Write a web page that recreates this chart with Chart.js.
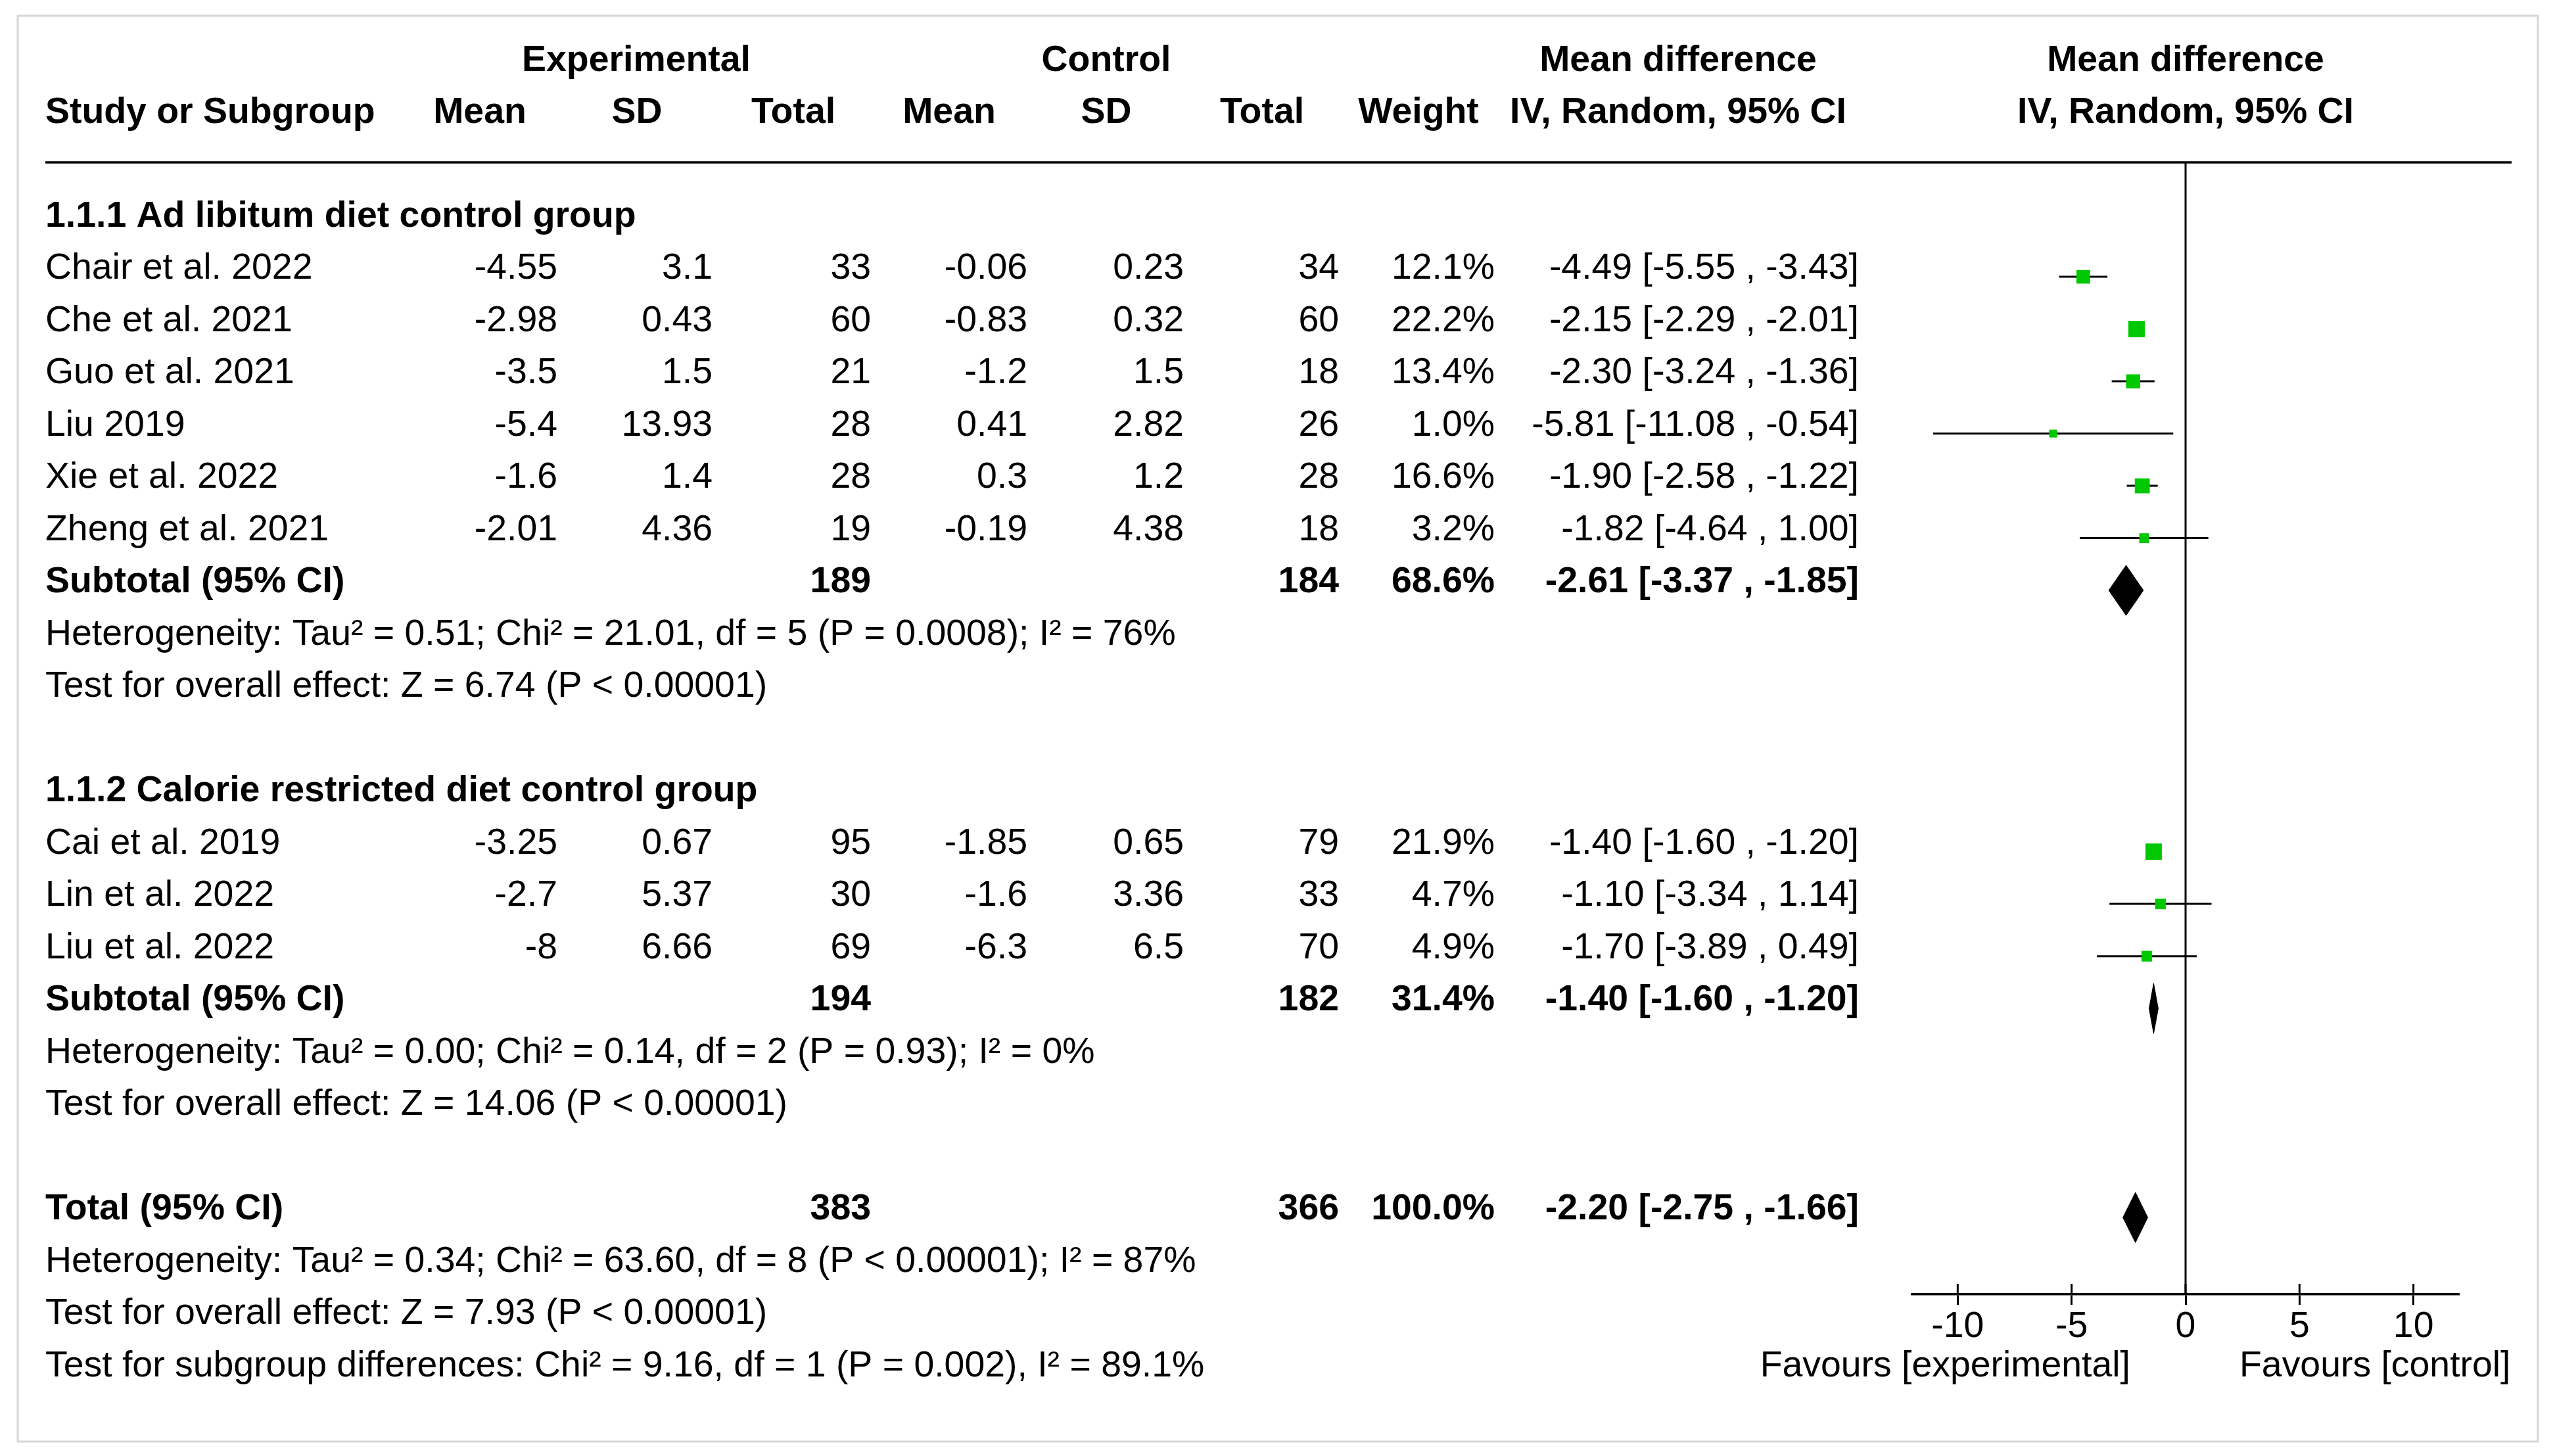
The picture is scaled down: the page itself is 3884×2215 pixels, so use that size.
<!DOCTYPE html>
<html>
<head>
<meta charset="utf-8">
<script src="https://cdn.jsdelivr.net/npm/chart.js@4.4.1/dist/chart.umd.min.js"></script>
<style>
  html, body { margin: 0; padding: 0; background: #fff; }
  canvas { display: block; }
</style>
</head>
<body>
<canvas id="forest" width="3884" height="2215"></canvas>
<script>
// study level data
const studies = ['Chair et al. 2022', 'Che et al. 2021', 'Guo et al. 2021', 'Liu 2019', 'Xie et al. 2022',
  'Zheng et al. 2021', 'Cai et al. 2019', 'Lin et al. 2022', 'Liu et al. 2022']
const studyRows = [1, 2, 3, 4, 5, 6, 12, 13, 14]
const expMean = [-4.55, -2.98, -3.5, -5.4, -1.6, -2.01, -3.25, -2.7, -8]
const expSD = [3.1, 0.43, 1.5, 13.93, 1.4, 4.36, 0.67, 5.37, 6.66]
const expTotal = [33, 60, 21, 28, 28, 19, 95, 30, 69]
const ctrlMean = [-0.06, -0.83, -1.2, 0.41, 0.3, -0.19, -1.85, -1.6, -6.3]
const ctrlSD = [0.23, 0.32, 1.5, 2.82, 1.2, 4.38, 0.65, 3.36, 6.5]
const ctrlTotal = [34, 60, 18, 26, 28, 18, 79, 33, 70]
const weights = [12.1, 22.2, 13.4, 1.0, 16.6, 3.2, 21.9, 4.7, 4.9]
const md = [-4.49, -2.15, -2.30, -5.81, -1.90, -1.82, -1.40, -1.10, -1.70]
const ciLow = [-5.55, -2.29, -3.24, -11.08, -2.58, -4.64, -1.60, -3.34, -3.89]
const ciHigh = [-3.43, -2.01, -1.36, -0.54, -1.22, 1.00, -1.20, 1.14, 0.49]

// pooled estimates
const pooledLabels = ['Subtotal (95% CI)', 'Subtotal (95% CI)', 'Total (95% CI)']
const pooledRows = [7, 15, 19]
const pooledExpTotal = [189, 194, 383]
const pooledCtrlTotal = [184, 182, 366]
const pooledWeight = [68.6, 31.4, 100.0]
const pooledMD = [-2.61, -1.40, -2.20]
const pooledLow = [-3.37, -1.60, -2.75]
const pooledHigh = [-1.85, -1.20, -1.66]

// subgroup headings and notes
const groupLabels = ['1.1.1 Ad libitum diet control group', '1.1.2 Calorie restricted diet control group']
const groupRows = [0, 11]
const notes = [
  'Heterogeneity: Tau² = 0.51; Chi² = 21.01, df = 5 (P = 0.0008); I² = 76%',
  'Test for overall effect: Z = 6.74 (P < 0.00001)',
  'Heterogeneity: Tau² = 0.00; Chi² = 0.14, df = 2 (P = 0.93); I² = 0%',
  'Test for overall effect: Z = 14.06 (P < 0.00001)',
  'Heterogeneity: Tau² = 0.34; Chi² = 63.60, df = 8 (P < 0.00001); I² = 87%',
  'Test for overall effect: Z = 7.93 (P < 0.00001)',
  'Test for subgroup differences: Chi² = 9.16, df = 1 (P = 0.002), I² = 89.1%'
]
const noteRows = [8, 9, 16, 17, 20, 21, 22]

const xTicks = [-10, -5, 0, 5, 10]
const favourLabels = ['Favours [experimental]', 'Favours [control]']

const FONT = '"Liberation Sans", Arial, Helvetica, sans-serif'
const FS = 55.4
const GREEN = '#00c800'
const DIAMOND_H = 0.48   // half height of the diamonds, in rows
const TEXT_SHIFT = 12    // text sits a bit above the marks

// column anchors (px)
const COL = { study: 69, eMean: 848, eSD: 1084, eTot: 1325, cMean: 1563, cSD: 1801,
  cTot: 2037, weight: 2274, ci: 2828 }

function squareSide(w) {
  return 8.5 + 3.5 * Math.sqrt(w)
}

const datasets = []

datasets.push({
  label: 'studies',
  data: md.map((v, i) => ({ x: v, y: studyRows[i] })),
  pointStyle: 'rect',
  pointRadius: ctx => squareSide(weights[ctx.dataIndex]) / Math.SQRT2,
  pointBackgroundColor: GREEN,
  pointBorderWidth: 0,
  showLine: false,
  order: 0
})

for (let i = 0; i < studies.length; i++) {
  datasets.push({
    label: studies[i] + ' CI',
    data: [{ x: ciLow[i], y: studyRows[i] }, { x: ciHigh[i], y: studyRows[i] }],
    showLine: true,
    borderColor: '#000',
    borderWidth: 3,
    pointRadius: 0,
    order: 1
  })
}

for (let i = 0; i < pooledRows.length; i++) {
  let r = pooledRows[i]
  datasets.push({
    label: pooledLabels[i],
    data: [
      { x: pooledLow[i], y: r },
      { x: pooledMD[i], y: r - DIAMOND_H },
      { x: pooledHigh[i], y: r },
      { x: pooledMD[i], y: r + DIAMOND_H },
      { x: pooledLow[i], y: r }
    ],
    showLine: true,
    fill: 'shape',
    backgroundColor: '#000',
    borderColor: '#000',
    borderWidth: 1,
    pointRadius: 0,
    order: 0
  })
}

function fmt2(v) { return v.toFixed(2) }

const tablePlugin = {
  id: 'tableText',
  beforeDraw(chart) {
    const ctx = chart.ctx
    ctx.save()
    ctx.fillStyle = '#fff'
    ctx.fillRect(0, 0, chart.width, chart.height)
    ctx.strokeStyle = '#d6d6d6'
    ctx.lineWidth = 3
    ctx.strokeRect(27, 24, 3834, 2169)
    ctx.restore()
  },
  afterDraw(chart) {
    const ctx = chart.ctx
    const xs = chart.scales.x
    const ys = chart.scales.y
    const area = chart.chartArea
    const x0 = xs.getPixelForValue(0)
    const rowY = r => ys.getPixelForValue(r) - TEXT_SHIFT

    ctx.save()
    // rule under the header and the line of no effect
    ctx.strokeStyle = '#000'
    ctx.lineWidth = 3.5
    ctx.beginPath()
    ctx.moveTo(69, area.top)
    ctx.lineTo(3821, area.top)
    ctx.stroke()
    ctx.lineWidth = 3
    ctx.beginPath()
    ctx.moveTo(x0, area.top)
    ctx.lineTo(x0, area.bottom)
    ctx.stroke()
    // upper half of the axis ticks
    ctx.lineWidth = 3
    xs.ticks.forEach(t => {
      const px = xs.getPixelForValue(t.value)
      ctx.beginPath()
      ctx.moveTo(px, area.bottom - 16)
      ctx.lineTo(px, area.bottom)
      ctx.stroke()
    })

    ctx.fillStyle = '#000'
    ctx.textBaseline = 'middle'
    const put = (s, x, y, align, bold) => {
      ctx.font = (bold ? 'bold ' : '') + FS + 'px ' + FONT
      ctx.textAlign = align
      ctx.fillText(s, x, y)
    }

    // headers
    put('Experimental', 968, 93, 'center', true)
    put('Control', 1683, 93, 'center', true)
    put('Mean difference', 2553, 93, 'center', true)
    put('Mean difference', x0, 93, 'center', true)
    put('Study or Subgroup', COL.study, 172, 'left', true)
    put('Mean', 730, 172, 'center', true)
    put('SD', 969, 172, 'center', true)
    put('Total', 1207, 172, 'center', true)
    put('Mean', 1444, 172, 'center', true)
    put('SD', 1683, 172, 'center', true)
    put('Total', 1920, 172, 'center', true)
    put('Weight', 2158, 172, 'center', true)
    put('IV, Random, 95% CI', 2553, 172, 'center', true)
    put('IV, Random, 95% CI', x0, 172, 'center', true)

    groupLabels.forEach((g, i) => put(g, COL.study, rowY(groupRows[i]), 'left', true))

    studies.forEach((s, i) => {
      const y = rowY(studyRows[i])
      put(s, COL.study, y, 'left', false)
      put(String(expMean[i]), COL.eMean, y, 'right', false)
      put(String(expSD[i]), COL.eSD, y, 'right', false)
      put(String(expTotal[i]), COL.eTot, y, 'right', false)
      put(String(ctrlMean[i]), COL.cMean, y, 'right', false)
      put(String(ctrlSD[i]), COL.cSD, y, 'right', false)
      put(String(ctrlTotal[i]), COL.cTot, y, 'right', false)
      put(weights[i].toFixed(1) + '%', COL.weight, y, 'right', false)
      put(fmt2(md[i]) + ' [' + fmt2(ciLow[i]) + ' , ' + fmt2(ciHigh[i]) + ']', COL.ci, y, 'right', false)
    })

    pooledLabels.forEach((p, i) => {
      const y = rowY(pooledRows[i])
      put(p, COL.study, y, 'left', true)
      put(String(pooledExpTotal[i]), COL.eTot, y, 'right', true)
      put(String(pooledCtrlTotal[i]), COL.cTot, y, 'right', true)
      put(pooledWeight[i].toFixed(1) + '%', COL.weight, y, 'right', true)
      put(fmt2(pooledMD[i]) + ' [' + fmt2(pooledLow[i]) + ' , ' + fmt2(pooledHigh[i]) + ']', COL.ci, y, 'right', true)
    })

    notes.forEach((n, i) => put(n, COL.study, rowY(noteRows[i]), 'left', false))

    put(favourLabels[0], x0 - 84, 2079, 'right', false)
    put(favourLabels[1], x0 + 82, 2079, 'left', false)
    ctx.restore()
  }
}

const chart = new Chart(document.getElementById('forest'), {
  type: 'scatter',
  data: { datasets: datasets },
  options: {
    responsive: false,
    animation: false,
    devicePixelRatio: 1,
    layout: { padding: { left: 2909, right: 143, top: 247, bottom: 126 } },
    plugins: {
      legend: { display: false },
      tooltip: { enabled: false }
    },
    scales: {
      x: {
        type: 'linear',
        position: 'bottom',
        min: -12,
        max: 12,
        afterFit: scale => { scale.height = 120 },
        afterBuildTicks: scale => { scale.ticks = xTicks.map(v => ({ value: v })) },
        border: { display: true, color: '#000', width: 3.5 },
        grid: { display: true, drawOnChartArea: false, drawTicks: true, tickLength: 16,
          tickWidth: 3, tickColor: '#000' },
        ticks: { color: '#000', padding: 0, maxRotation: 0,
          font: { family: FONT, size: FS, lineHeight: 1.2 } }
      },
      y: {
        type: 'linear',
        display: false,
        reverse: true,
        min: -1.19,
        max: 20.47
      }
    }
  },
  plugins: [tablePlugin]
})
</script>
</body>
</html>
